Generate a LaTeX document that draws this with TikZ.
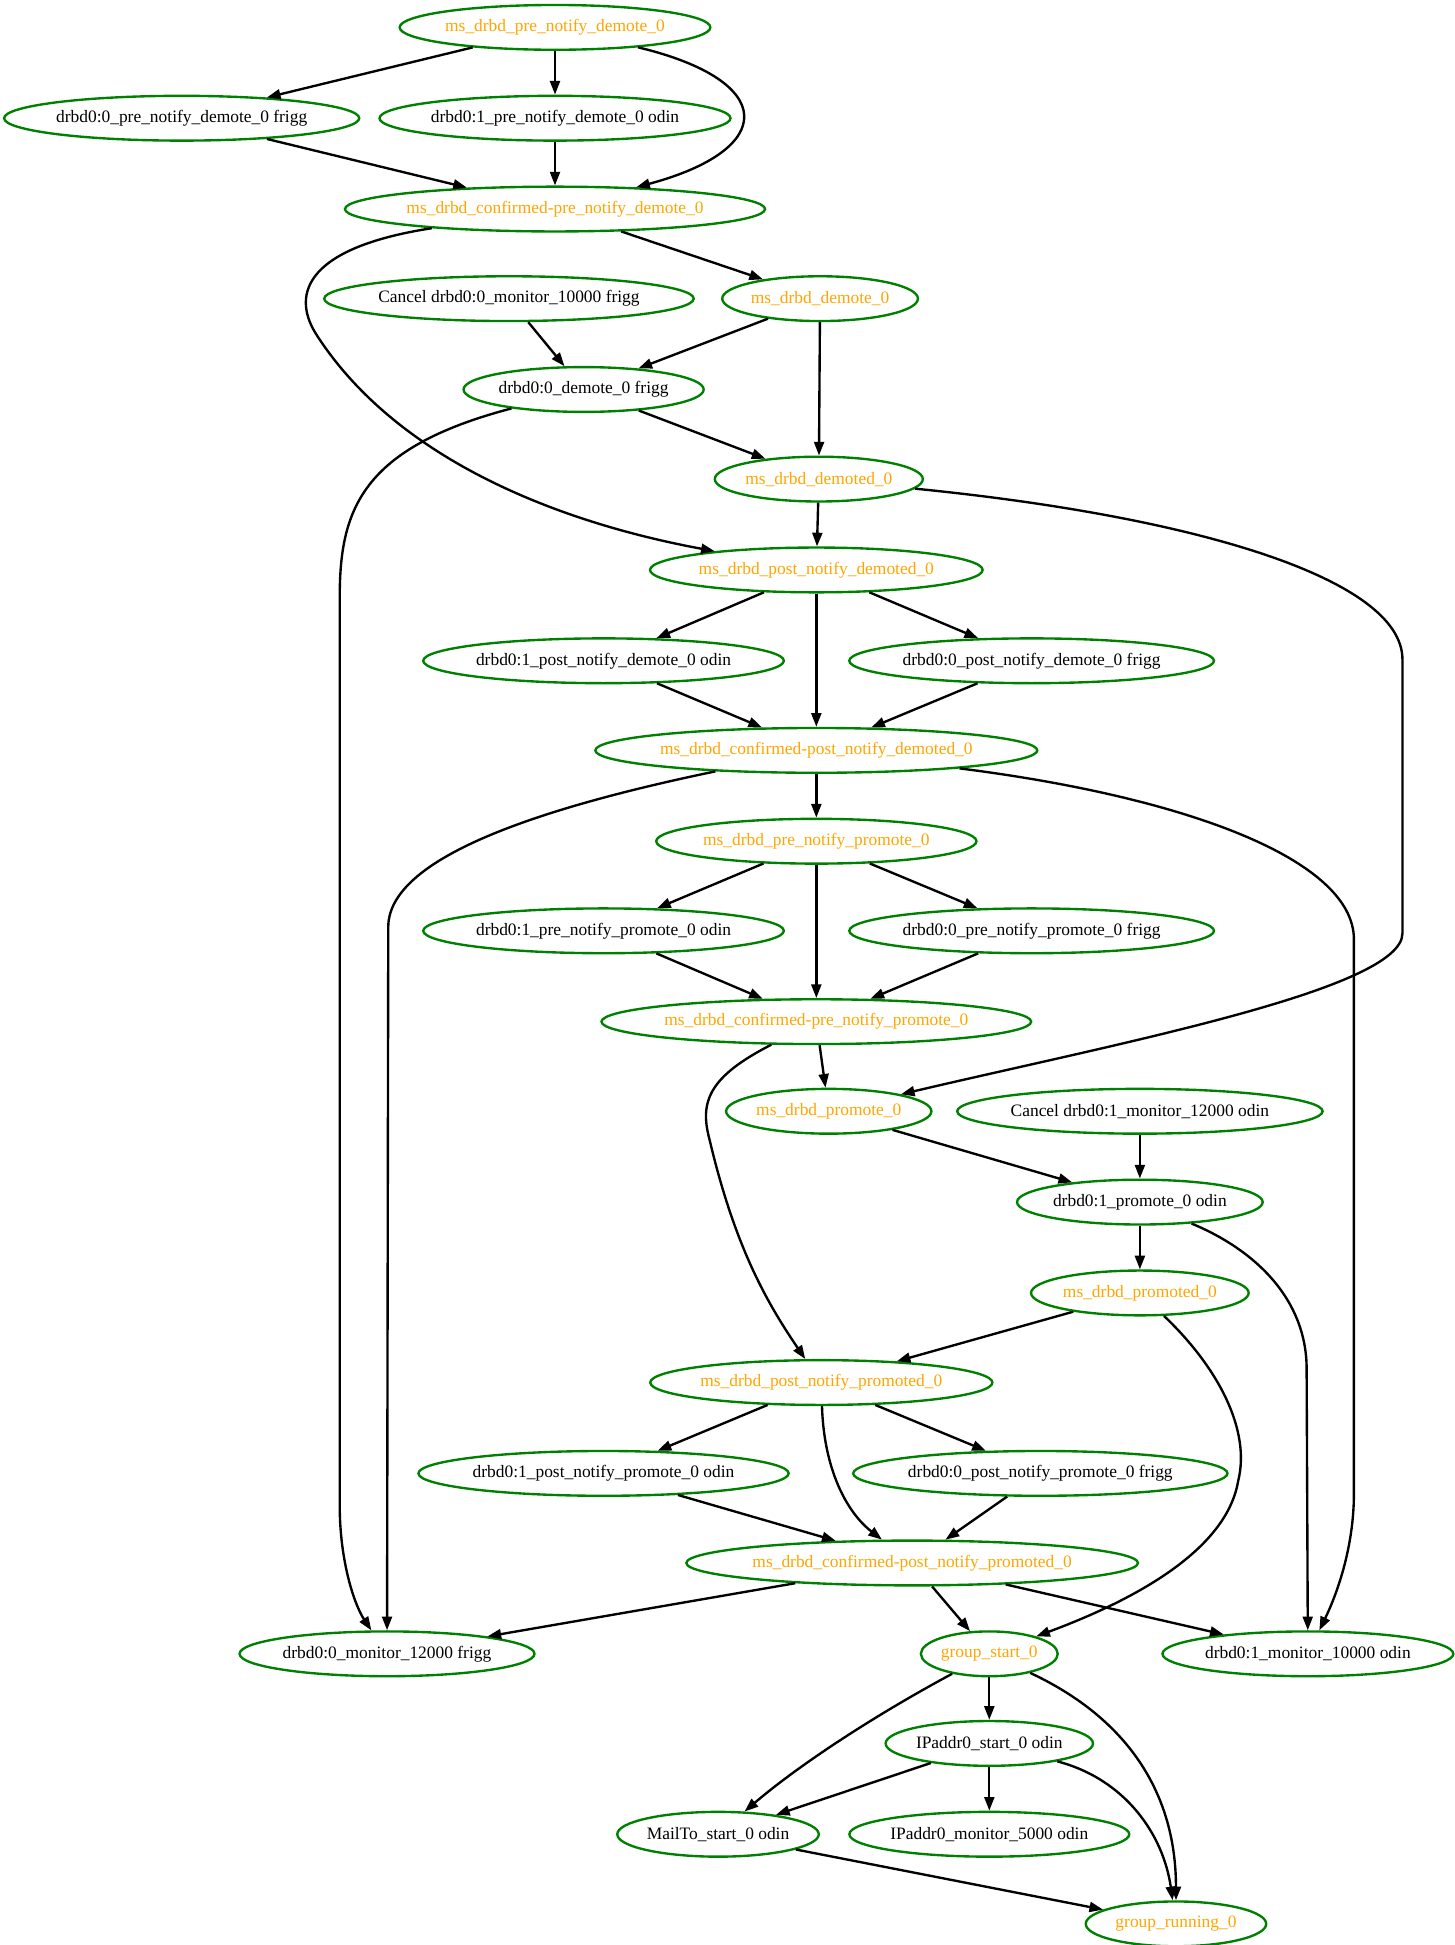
\documentclass[tikz,border=0pt]{standalone}
\usepackage{fontspec}
\setmainfont{Liberation Serif}
\usetikzlibrary{arrows.meta,shapes.geometric}
\definecolor{gvgreen}{HTML}{008000}
\definecolor{gvorange}{HTML}{FFA500}
\begin{document}
\begin{tikzpicture}[x=1pt,y=-1pt,->,>={Triangle[length=11pt,width=8pt]},line width=1.9pt,
	state/.style={ellipse,draw=gvgreen,line width=1.9pt,inner xsep=0pt,minimum height=36pt,font=\fontsize{14}{16}\selectfont},
	pseudo/.style={state,text=gvorange}]

	\useasboundingbox (0,0) rectangle (1169,1563);

	% demote
	\node(pre_demote)       [pseudo] at (446,22)  {ms\_drbd\_pre\_notify\_demote\_0};
	\node(pre_demote_frigg) [state]  at (146,95)  {drbd0:0\_pre\_notify\_demote\_0 frigg};
	\node(pre_demote_odin)  [state]  at (446,95)  {drbd0:1\_pre\_notify\_demote\_0 odin};
	\node(conf_pre_demote)  [pseudo] at (446,168) {ms\_drbd\_confirmed-pre\_notify\_demote\_0};
	\node(cancel_frigg)     [state]  at (409,240) {Cancel drbd0:0\_monitor\_10000 frigg};
	\node(demote)           [pseudo] at (659,240) {ms\_drbd\_demote\_0};
	\node(demote_frigg)     [state]  at (469,313) {drbd0:0\_demote\_0 frigg};
	\node(demoted)          [pseudo] at (658,385) {ms\_drbd\_demoted\_0};
	\node(post_demote)      [pseudo] at (656,458) {ms\_drbd\_post\_notify\_demoted\_0};
	\node(post_demote_odin) [state]  at (485,531) {drbd0:1\_post\_notify\_demote\_0 odin};
	\node(post_demote_frigg)[state]  at (829,531) {drbd0:0\_post\_notify\_demote\_0 frigg};
	\node(conf_post_demote) [pseudo] at (656,603) {ms\_drbd\_confirmed-post\_notify\_demoted\_0};

	% promote
	\node(pre_promote)       [pseudo] at (656,676) {ms\_drbd\_pre\_notify\_promote\_0};
	\node(pre_promote_odin)  [state]  at (485,748) {drbd0:1\_pre\_notify\_promote\_0 odin};
	\node(pre_promote_frigg) [state]  at (829,748) {drbd0:0\_pre\_notify\_promote\_0 frigg};
	\node(conf_pre_promote)  [pseudo] at (656,821) {ms\_drbd\_confirmed-pre\_notify\_promote\_0};
	\node(promote)           [pseudo] at (666,893) {ms\_drbd\_promote\_0};
	\node(cancel_odin)       [state]  at (916,893) {Cancel drbd0:1\_monitor\_12000 odin};
	\node(promote_odin)      [state]  at (916,966) {drbd0:1\_promote\_0 odin};
	\node(promoted)          [pseudo] at (916,1039) {ms\_drbd\_promoted\_0};
	\node(post_promote)      [pseudo] at (660,1111) {ms\_drbd\_post\_notify\_promoted\_0};
	\node(post_promote_odin) [state]  at (485,1184) {drbd0:1\_post\_notify\_promote\_0 odin};
	\node(post_promote_frigg)[state]  at (836,1184) {drbd0:0\_post\_notify\_promote\_0 frigg};
	\node(conf_post_promote) [pseudo] at (733,1256) {ms\_drbd\_confirmed-post\_notify\_promoted\_0};

	% monitors and group
	\node(mon_frigg)   [state]  at (311,1329) {drbd0:0\_monitor\_12000 frigg};
	\node(group_start) [pseudo] at (795,1329) {group\_start\_0};
	\node(mon_odin)    [state]  at (1051,1329) {drbd0:1\_monitor\_10000 odin};
	\node(ip_start)    [state]  at (795,1401) {IPaddr0\_start\_0 odin};
	\node(mail_start)  [state]  at (577,1474) {MailTo\_start\_0 odin};
	\node(ip_monitor)  [state]  at (795,1474) {IPaddr0\_monitor\_5000 odin};
	\node(group_run)   [pseudo,minimum width=145pt] at (945,1546) {group\_running\_0};

	\draw (pre_demote) -- (pre_demote_frigg);
	\draw (pre_demote) -- (pre_demote_odin);
	\draw (pre_demote) .. controls (625,65) and (625,120) .. (conf_pre_demote);
	\draw (pre_demote_frigg) -- (conf_pre_demote);
	\draw (pre_demote_odin) -- (conf_pre_demote);
	\draw (conf_pre_demote) -- (demote);
	\draw (conf_pre_demote) .. controls (240,200) and (235,240) .. (255,270)
		.. controls (320,370) and (450,420) .. (post_demote);
	\draw (cancel_frigg) -- (demote_frigg);
	\draw (demote) -- (demote_frigg);
	\draw (demote) -- (demoted);
	\draw (demote_frigg) -- (demoted);
	\draw (demote_frigg) .. controls (290,360) and (273,410) .. (273,480) -- (273,1210)
		.. controls (273,1255) and (285,1290) .. (mon_frigg);
	\draw (demoted) -- (post_demote);
	\draw (demoted) .. controls (960,415) and (1127,465) .. (1127,530) -- (1127,750)
		.. controls (1127,795) and (900,838) .. (promote);
	\draw (post_demote) -- (post_demote_odin);
	\draw (post_demote) -- (post_demote_frigg);
	\draw (post_demote) -- (conf_post_demote);
	\draw (post_demote_odin) -- (conf_post_demote);
	\draw (post_demote_frigg) -- (conf_post_demote);
	\draw (conf_post_demote) -- (pre_promote);
	\draw (conf_post_demote) .. controls (430,650) and (312,690) .. (312,745) -- (mon_frigg);
	\draw (conf_post_demote) .. controls (950,640) and (1088,690) .. (1088,755) -- (1088,1200)
		.. controls (1088,1250) and (1070,1290) .. (mon_odin);

	\draw (pre_promote) -- (pre_promote_odin);
	\draw (pre_promote) -- (pre_promote_frigg);
	\draw (pre_promote) -- (conf_pre_promote);
	\draw (pre_promote_odin) -- (conf_pre_promote);
	\draw (pre_promote_frigg) -- (conf_pre_promote);
	\draw (conf_pre_promote) -- (promote);
	\draw (conf_pre_promote) .. controls (570,865) and (562,885) .. (570,915)
		.. controls (590,1000) and (615,1045) .. (post_promote);
	\draw (promote) -- (promote_odin);
	\draw (cancel_odin) -- (promote_odin);
	\draw (promote_odin) -- (promoted);
	\draw (promote_odin) .. controls (1010,1005) and (1050,1045) .. (1050,1100) -- (mon_odin);
	\draw (promoted) -- (post_promote);
	\draw (promoted) .. controls (980,1100) and (1005,1150) .. (995,1190)
		.. controls (985,1250) and (900,1290) .. (group_start);
	\draw (post_promote) -- (post_promote_odin);
	\draw (post_promote) -- (post_promote_frigg);
	\draw (post_promote) .. controls (662,1180) and (680,1215) .. (conf_post_promote);
	\draw (post_promote_odin) -- (conf_post_promote);
	\draw (post_promote_frigg) -- (conf_post_promote);
	\draw (conf_post_promote) -- (mon_frigg);
	\draw (conf_post_promote) -- (group_start);
	\draw (conf_post_promote) -- (mon_odin);

	\draw (group_start) -- (ip_start);
	\draw (group_start) .. controls (700,1380) and (640,1420) .. (mail_start);
	\draw (group_start) .. controls (900,1378) and (945,1435) .. (group_run);
	\draw (ip_start) -- (mail_start);
	\draw (ip_start) -- (ip_monitor);
	\draw (ip_start) .. controls (905,1430) and (935,1475) .. (group_run);
	\draw (mail_start) -- (group_run);

\end{tikzpicture}
\end{document}
